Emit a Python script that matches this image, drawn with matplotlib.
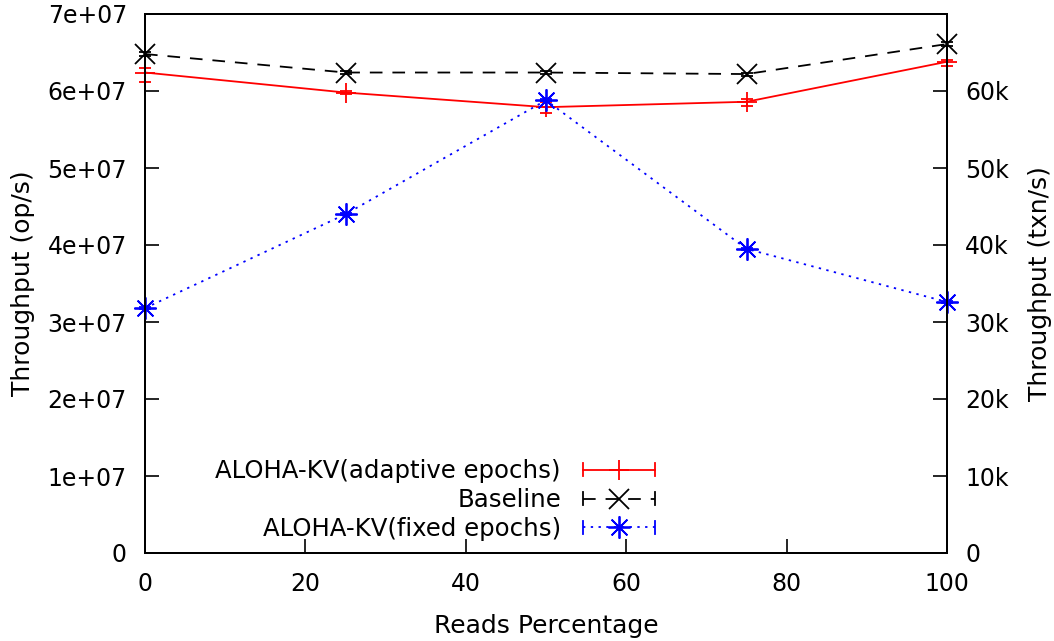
import numpy as np
import matplotlib
matplotlib.use("Agg")
import matplotlib.pyplot as plt
from matplotlib.ticker import FixedLocator, FuncFormatter
from matplotlib.legend_handler import HandlerLine2D
from matplotlib.lines import Line2D

# ---- data ----
reads_pct = [0, 25, 50, 75, 100]
adaptive = [6.24e7, 5.98e7, 5.79e7, 5.86e7, 6.38e7]
adaptive_low = [6.12e7, 5.96e7, 5.71e7, 5.80e7, 6.33e7]
adaptive_high = [6.30e7, 6.00e7, 5.86e7, 5.90e7, 6.40e7]
baseline = [6.48e7, 6.24e7, 6.24e7, 6.22e7, 6.61e7]
baseline_err = [0.02e7, 0.02e7, 0.02e7, 0.02e7, 0.02e7]
fixed = [3.18e7, 4.40e7, 5.88e7, 3.95e7, 3.26e7]
fixed_err = [0.01e7, 0.01e7, 0.01e7, 0.01e7, 0.01e7]
labels = ["ALOHA-KV(adaptive epochs)", "Baseline", "ALOHA-KV(fixed epochs)"]
xticks = [0, 20, 40, 60, 80, 100]
yticks = [0, 1e7, 2e7, 3e7, 4e7, 5e7, 6e7, 7e7]
y2ticks = [0, 10000, 20000, 30000, 40000, 50000, 60000]

FS = 17
LFS = 18
plt.rcParams['font.family'] = ['DejaVu Sans']
plt.rcParams['font.size'] = FS

fig = plt.figure(figsize=(10.54, 6.41), dpi=100)
ax = fig.add_axes([145/1054, 1 - 553/641, (947-145)/1054, (553-14)/641])

x = np.array(reads_pct, dtype=float)
a = np.array(adaptive)
aerr = np.vstack([a - np.array(adaptive_low), np.array(adaptive_high) - a])
LW = 1.3

def draw(xv, yv, err, color, marker, ms, ls, dashes):
    eb = ax.errorbar(xv, yv, yerr=err, color=color, ecolor=color, elinewidth=LW,
                     capsize=4.5, capthick=LW, lw=LW, marker=marker, ms=ms,
                     mew=LW, mfc='none', mec=color, ls=ls, zorder=3)
    line = eb.lines[0]
    if dashes is not None:
        line.set_dashes(dashes)
    line.set_clip_on(False)
    for c in eb.lines[1]:
        c.set_clip_on(False)
    for c in eb.lines[2]:
        c.set_clip_on(False)
    return eb

draw(x, a, aerr, 'red', '+', 14, '-', None)
draw(x, np.array(baseline), np.array(baseline_err), 'black', 'x', 14, '--', (7.0, 5.5))
draw(x, np.array(fixed), np.array(fixed_err), 'blue', (8, 2, 0), 16, ':', (1.3, 3.0))

ax.set_xlim(0, 100)
ax.set_ylim(0, 7e7)
ax.xaxis.set_major_locator(FixedLocator(xticks))
ax.yaxis.set_major_locator(FixedLocator(yticks))

def sci(v, pos):
    if v == 0:
        return "0"
    e = int(np.floor(np.log10(v)))
    m = v / 10**e
    return f"{m:.0f}e+{e:02d}"
ax.yaxis.set_major_formatter(FuncFormatter(sci))
ax.tick_params(axis='both', direction='in', length=10, width=1.2, labelsize=FS)
ax.tick_params(axis='y', pad=13, right=False)
ax.tick_params(axis='x', pad=14, top=False)
for s in ax.spines.values():
    s.set_linewidth(1.4)

ax2 = ax.twinx()
ax2.set_ylim(0, 70000)
ax2.yaxis.set_major_locator(FixedLocator(y2ticks))
ax2.yaxis.set_major_formatter(FuncFormatter(lambda v, p: "0" if v == 0 else f"{v/1000:.0f}k"))
ax2.tick_params(axis='y', direction='in', length=10, width=1.2, labelsize=FS, pad=13)
for s in ax2.spines.values():
    s.set_linewidth(1.4)

ax.set_xlabel("Reads Percentage", fontsize=LFS, labelpad=13)
ax.set_ylabel("Throughput (op/s)", fontsize=LFS, labelpad=9)
ax2.set_ylabel("Throughput (txn/s)", fontsize=LFS, labelpad=14)


class GPHandler(HandlerLine2D):
    def create_artists(self, legend, orig_handle, xdescent, ydescent,
                       width, height, fontsize, trans):
        arts = super().create_artists(legend, orig_handle, xdescent, ydescent,
                                      width, height, fontsize, trans)
        y0 = (height - ydescent) / 2
        h = 4.5
        for xx in (-xdescent, width - xdescent):
            t = Line2D([xx, xx], [y0 - h, y0 + h], color=orig_handle.get_color(),
                       lw=LW, transform=trans)
            arts.append(t)
        return arts

h1 = Line2D([], [], color='red', lw=LW, marker='+', ms=14, mew=LW)
h2 = Line2D([], [], color='black', lw=LW, marker='x', ms=14, mew=LW, dashes=(7.0, 5.5))
h3 = Line2D([], [], color='blue', lw=LW, marker=(8, 2, 0), ms=16, mew=LW, dashes=(1.3, 3.0))
leg = ax.legend([h1, h2, h3], labels, loc='lower right',
                bbox_to_anchor=((655-145)/802, (553-541)/539),
                markerfirst=False, frameon=False, borderpad=0, borderaxespad=0,
                handlelength=2.95, handletextpad=0.9, labelspacing=0.2,
                prop={'size': 17.6}, handler_map={Line2D: GPHandler()})

fig.savefig("out.png", dpi=100)
